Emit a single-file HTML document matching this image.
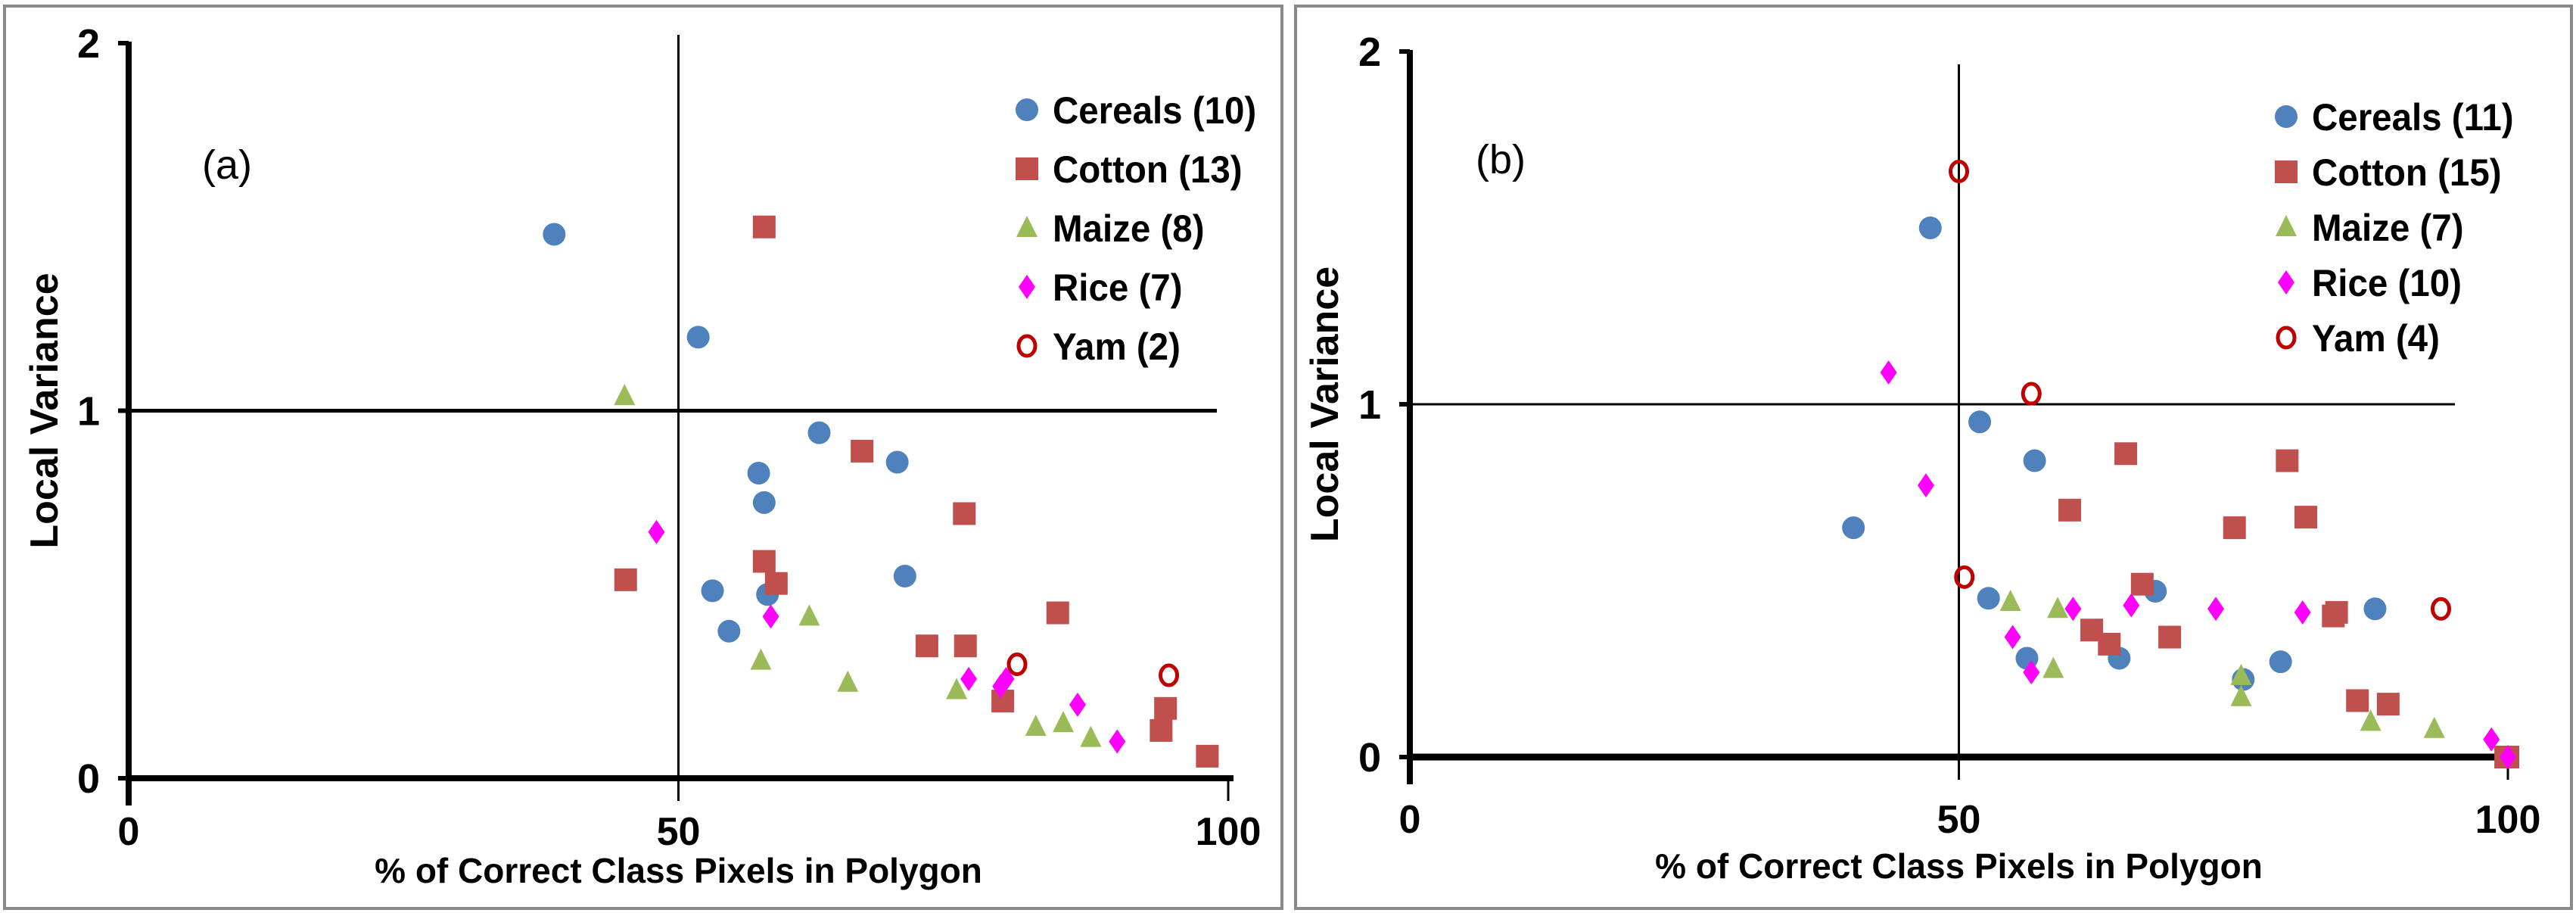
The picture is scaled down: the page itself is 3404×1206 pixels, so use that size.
<!DOCTYPE html>
<html><head><meta charset="utf-8"><style>
html,body{margin:0;padding:0;background:#fff;}
svg{display:block;}
text{font-family:"Liberation Sans Narrow","Liberation Sans",sans-serif;font-weight:bold;fill:#000;}
</style></head><body>
<svg id="chart" width="3404" height="1206" viewBox="0 0 3404 1206" xmlns="http://www.w3.org/2000/svg">
<rect x="6" y="8" width="1688" height="1192" fill="#fff" stroke="#8a8a8a" stroke-width="4"/>
<rect x="1712" y="8" width="1686" height="1192" fill="#fff" stroke="#8a8a8a" stroke-width="4"/>
<g id="pa"></g>
<g id="pb"></g>
</svg>
<script>
const xTicks=[0,50,100];
const yTicks=[0,1,2];
const seriesNames=["Cereals","Cotton","Maize","Rice","Yam"];
const countsA=[10,13,8,7,2];
const countsB=[11,15,7,10,4];
const aCerealsX=[38.7,51.8,62.8,69.9,57.3,57.8,70.6,53.1,58.1,54.6];
const aCerealsY=[1.48,1.20,0.94,0.86,0.83,0.75,0.55,0.51,0.50,0.40];
const aCottonX=[57.8,66.7,76.0,57.8,58.9,45.2,84.5,72.6,76.1,79.5,94.3,93.9,98.1];
const aCottonY=[1.50,0.89,0.72,0.59,0.53,0.54,0.45,0.36,0.36,0.21,0.19,0.13,0.06];
const aMaizeX=[45.1,61.9,57.5,65.4,75.3,82.5,85.0,87.5];
const aMaizeY=[1.04,0.44,0.32,0.26,0.24,0.14,0.15,0.11];
const aRiceX=[48.0,58.4,76.4,79.3,79.8,86.3,89.9];
const aRiceY=[0.67,0.44,0.27,0.25,0.27,0.20,0.10];
const aYamX=[80.8,94.6];
const aYamY=[0.31,0.28];
const bCerealsX=[47.4,51.9,56.9,40.4,52.7,67.9,87.9,56.2,64.6,79.3,75.9];
const bCerealsY=[1.50,0.95,0.84,0.65,0.45,0.47,0.42,0.28,0.28,0.27,0.22];
const bCottonX=[65.2,79.9,60.1,75.1,81.6,66.7,84.1,62.1,63.7,69.2,86.3,89.1,100,84.4,99.8];
const bCottonY=[0.86,0.84,0.70,0.65,0.68,0.49,0.40,0.36,0.32,0.34,0.16,0.15,0.0,0.41,0.0];
const bMaizeX=[54.7,59.0,58.6,75.7,75.7,87.5,93.3];
const bMaizeY=[0.44,0.42,0.25,0.23,0.17,0.10,0.08];
const bRiceX=[43.6,47.0,60.4,65.7,73.4,81.3,54.9,56.6,98.5,100];
const bRiceY=[1.09,0.77,0.42,0.43,0.42,0.41,0.34,0.24,0.05,0.0];
const bYamX=[50,56.6,50.5,93.9];
const bYamY=[1.66,1.03,0.51,0.42];

const NS="http://www.w3.org/2000/svg";
const colors=["#4f81bd","#c0504d","#9bbb59","#ff00ff","#c00000"];
function mk(tag,attrs,parent){const e=document.createElementNS(NS,tag);for(const k in attrs)e.setAttribute(k,attrs[k]);parent.appendChild(e);return e;}
function marker(g,kind,cx,cy){
  let e;
  if(kind===0){e=mk('circle',{cx:cx,cy:cy,r:15,fill:colors[0]},g);}
  else if(kind===1){e=mk('rect',{x:cx-15,y:cy-15,width:30,height:30,fill:colors[1]},g);}
  else if(kind===2){e=mk('polygon',{points:`${cx},${cy-16} ${cx+14},${cy+12} ${cx-14},${cy+12}`,fill:colors[2]},g);}
  else if(kind===3){e=mk('polygon',{points:`${cx},${cy-16} ${cx+11},${cy} ${cx},${cy+16} ${cx-11},${cy}`,fill:colors[3]},g);}
  else {e=mk('ellipse',{cx:cx,cy:cy,rx:11,ry:13,fill:'none',stroke:colors[4],'stroke-width':5},g);}
  return e;
}
function panel(g,cfg,data,counts){
  const sx=v=>cfg.x0+(cfg.x1-cfg.x0)*v/100;
  const sy=v=>cfg.y0-(cfg.y0-cfg.y2)*v/2;
  let l=mk('line',{x1:sx(50),y1:cfg.vTop,x2:sx(50),y2:sy(0),stroke:'#000','stroke-width':cfg.vW},g);
  
  
  l=mk('line',{x1:sx(0),y1:sy(1),x2:cfg.hEnd,y2:sy(1),stroke:'#000','stroke-width':cfg.hW},g);
  
  
  l=mk('line',{x1:sx(0),y1:sy(0),x2:cfg.xEnd,y2:sy(0),stroke:'#000','stroke-width':cfg.xW},g);
  
  
  l=mk('line',{x1:sx(0),y1:sy(2)-2,x2:sx(0),y2:sy(0)+36,stroke:'#000','stroke-width':8},g);
  
  
  xTicks.forEach(t=>{
    let tk=mk('line',{x1:sx(t),y1:sy(0),x2:sx(t),y2:sy(0)+30,stroke:'#000','stroke-width':t===0?8:3},g);
    
    
    const tx=mk('text',{x:sx(t),y:cfg.xLabY,'font-size':52,'text-anchor':'middle'},g);
    tx.textContent=t;
    
    
  });
  yTicks.forEach(t=>{
    let tk=mk('line',{x1:sx(0)-14,y1:sy(t),x2:sx(0),y2:sy(t),stroke:'#000','stroke-width':6},g);
    
    
    const tx=mk('text',{x:sx(0)-38,y:sy(t)+19,'font-size':54,'text-anchor':'end'},g);
    tx.textContent=t;
    
    
  });
  let t=mk('text',{x:sx(50),y:cfg.titleY,'font-size':46,'text-anchor':'middle'},g);
  t.textContent='% of Correct Class Pixels in Polygon';
  
  
  t=mk('text',{x:0,y:0,'font-size':52,'text-anchor':'middle',transform:`translate(${cfg.yTitleX},${sy(1)}) rotate(-90)`,style:'font-family:"Liberation Sans",sans-serif'},g);
  t.textContent='Local Variance';
  
  
  t=mk('text',{x:cfg.lblX,y:cfg.lblY,'font-size':54,'text-anchor':'middle',style:'font-weight:normal'},g);
  t.textContent=cfg.lbl;
  
  
  data.forEach((s,k)=>{
    const sg=mk('g',{},g);
    
    
    s[0].forEach((xv,i)=>{
      const m=marker(sg,k,sx(xv),sy(s[1][i]));
      
      
    });
  });
  seriesNames.forEach((n,k)=>{
    const ly=cfg.legY+k*cfg.legDy;
    const lg=mk('g',{},g);
    
    
    marker(lg,k,cfg.legX,ly);
    const tx=mk('text',{x:cfg.legX+34,y:ly+18,'font-size':50,transform:`translate(${cfg.legX+34},0) scale(0.95,1) translate(${-(cfg.legX+34)},0)`},lg);
    tx.textContent=`${n} (${counts[k]})`;
  });
}
panel(document.getElementById('pa'),{x0:170,x1:1623,y0:1028,y2:57,vTop:46,vW:3,hW:5,hEnd:1608,xW:8,xEnd:1630,xLabY:1116,titleY:1166,yTitleX:76,lbl:'(a)',lblX:300,lblY:236,legX:1357,legY:145,legDy:78},
  [[aCerealsX,aCerealsY],[aCottonX,aCottonY],[aMaizeX,aMaizeY],[aRiceX,aRiceY],[aYamX,aYamY]],countsA);
panel(document.getElementById('pb'),{x0:1863,x1:3314,y0:1000,y2:68,vTop:85,vW:3,hW:3,hEnd:3244,xW:9,xEnd:3322,xLabY:1100,titleY:1160,yTitleX:1768,lbl:'(b)',lblX:1983,lblY:229,legX:3021,legY:154,legDy:73},
  [[bCerealsX,bCerealsY],[bCottonX,bCottonY],[bMaizeX,bMaizeY],[bRiceX,bRiceY],[bYamX,bYamY]],countsB);
</script>
</body></html>
